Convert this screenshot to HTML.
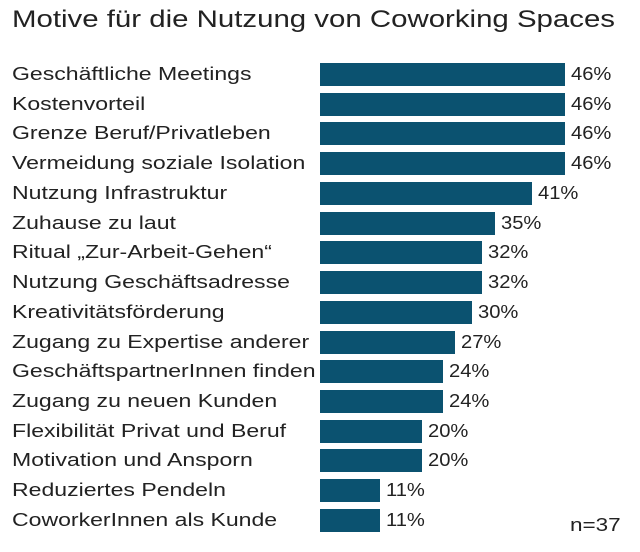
<!DOCTYPE html>
<html><head><meta charset="utf-8"><style>
body{margin:0;width:640px;height:552px;background:#fff;font-family:"Liberation Sans",sans-serif;color:#222;position:relative;overflow:hidden}
.t{position:absolute;left:12px;top:6px;font-size:24px;white-space:nowrap;transform:scaleX(1.225);transform-origin:0 0}
.l{position:absolute;left:12px;font-size:18px;white-space:nowrap;line-height:23px;transform:scaleX(1.28);transform-origin:0 0}
.b{position:absolute;left:320px;height:23px;background:#0b5270}
.v{position:absolute;font-size:18px;line-height:23px;transform:scaleX(1.12);transform-origin:0 0}
</style></head><body>
<div class="t">Motive für die Nutzung von Coworking Spaces</div>
<div id="c"></div>
<div class="v" style="left:570px;top:514px;transform:scaleX(1.25)">n=37</div>
<script>
var d=[["Geschäftliche Meetings",565,46],["Kostenvorteil",565,46],["Grenze Beruf/Privatleben",565,46],["Vermeidung soziale Isolation",565,46],["Nutzung Infrastruktur",532,41],["Zuhause zu laut",495,35],["Ritual „Zur-Arbeit-Gehen“",482,32],["Nutzung Geschäftsadresse",482,32],["Kreativitätsförderung",472,30],["Zugang zu Expertise anderer",455,27],["GeschäftspartnerInnen finden",443,24],["Zugang zu neuen Kunden",443,24],["Flexibilität Privat und Beruf",422,20],["Motivation und Ansporn",422,20],["Reduziertes Pendeln",380,11],["CoworkerInnen als Kunde",380,11]];
var h="";d.forEach(function(r,i){var y=63+i*29.73;
h+='<div class="l" style="top:'+y+'px">'+r[0]+'</div><div class="b" style="top:'+y+'px;width:'+(r[1]-320)+'px"></div><div class="v" style="top:'+y+'px;left:'+(r[1]+6)+'px">'+r[2]+'%</div>';});
document.getElementById("c").innerHTML=h;
</script>
</body></html>
